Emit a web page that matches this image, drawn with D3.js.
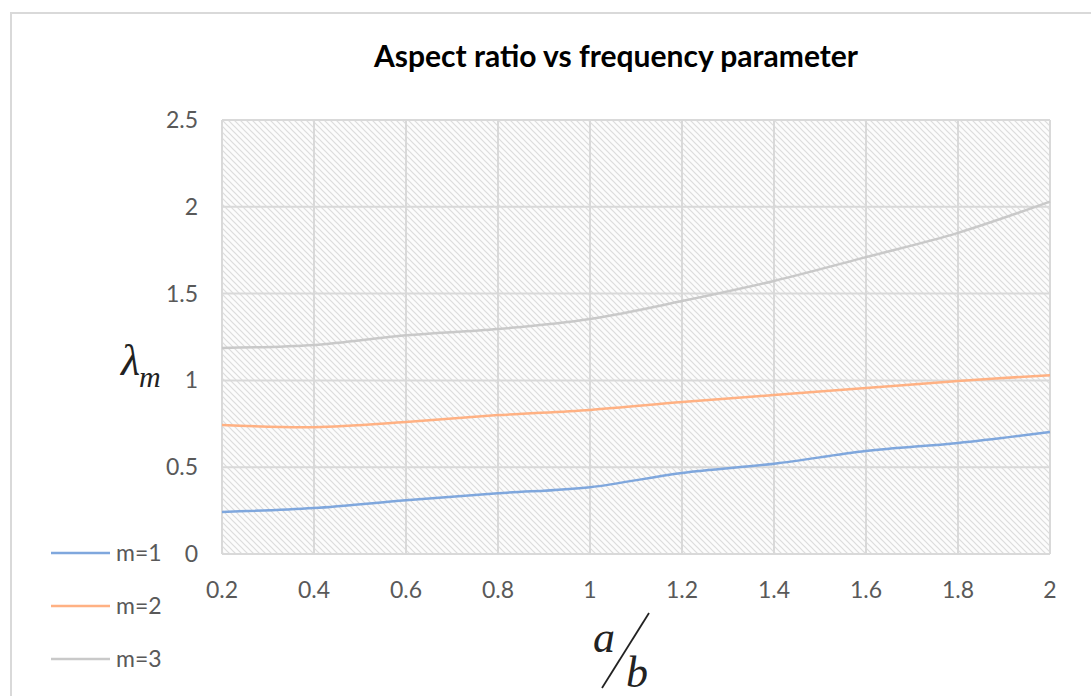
<!DOCTYPE html>
<head>
<meta charset="utf-8">
<script src="https://cdn.jsdelivr.net/npm/d3@7/dist/d3.min.js"></script>
<style>
body { margin: 0; background: #fff; }
</style>
</head>
<body>
<script>
// values
var ratios = [0.2, 0.4, 0.6, 0.8, 1.0, 1.2, 1.4, 1.6, 1.8, 2.0];
var m1 = [0.242, 0.265, 0.31, 0.35, 0.385, 0.467, 0.52, 0.593, 0.64, 0.703];
var m2 = [0.743, 0.73, 0.76, 0.80, 0.83, 0.875, 0.916, 0.956, 0.997, 1.03];
var m3 = [1.187, 1.204, 1.26, 1.296, 1.354, 1.457, 1.573, 1.71, 1.85, 2.03];
var seriesNames = ["m=1", "m=2", "m=3"];
var seriesColors = ["#7fa7dd", "#ffb183", "#c9c9c9"];
var xTicks = [0.2, 0.4, 0.6, 0.8, 1, 1.2, 1.4, 1.6, 1.8, 2];
var yTicks = [0, 0.5, 1, 1.5, 2, 2.5];

var width = 1091, height = 696;
var svg = d3.select("body").append("svg")
  .attr("width", width)
  .attr("height", height);

// outer chart frame
svg.append("rect")
  .attr("x", 11).attr("y", 13)
  .attr("width", 1200).attr("height", 800)
  .attr("fill", "#fff")
  .attr("stroke", "#d9d9d9")
  .attr("stroke-width", 2);

// hatch fill for the plot area
var pat = svg.append("defs").append("pattern")
  .attr("id", "hatch")
  .attr("patternUnits", "userSpaceOnUse")
  .attr("width", 6).attr("height", 6);
pat.append("rect").attr("width", 6).attr("height", 6).attr("fill", "#fcfcfc");
pat.append("path")
  .attr("d", "M-1,-1 L7,7 M-1,5 L1,7 M5,-1 L7,1")
  .attr("stroke", "#dcdcdc")
  .attr("stroke-width", 1.2);

var x = d3.scaleLinear().domain([0.2, 2]).range([222, 1050]);
var y = d3.scaleLinear().domain([0, 2.5]).range([554, 120]);

svg.append("rect")
  .attr("x", x(0.2)).attr("y", y(2.5))
  .attr("width", x(2) - x(0.2)).attr("height", y(0) - y(2.5))
  .attr("fill", "url(#hatch)");

// gridlines
svg.append("g").selectAll("line")
  .data(xTicks).enter().append("line")
  .attr("x1", function(d) { return x(d); })
  .attr("x2", function(d) { return x(d); })
  .attr("y1", y(2.5)).attr("y2", y(0))
  .attr("stroke", "#d9d9d9").attr("stroke-width", 2);
svg.append("g").selectAll("line")
  .data(yTicks).enter().append("line")
  .attr("x1", x(0.2)).attr("x2", x(2))
  .attr("y1", function(d) { return y(d); })
  .attr("y2", function(d) { return y(d); })
  .attr("stroke", "#d9d9d9").attr("stroke-width", 2);

// tick labels
var tickFont = "Lato, 'Open Sans', sans-serif";
svg.append("g").selectAll("text")
  .data(yTicks).enter().append("text")
  .attr("x", 198)
  .attr("y", function(d) { return y(d) + 8; })
  .attr("text-anchor", "end")
  .attr("font-family", tickFont).attr("font-size", 23)
  .attr("fill", "#595959")
  .text(function(d) { return d; });
svg.append("g").selectAll("text")
  .data(xTicks).enter().append("text")
  .attr("x", function(d) { return x(d); })
  .attr("y", 598)
  .attr("text-anchor", "middle")
  .attr("font-family", tickFont).attr("font-size", 23)
  .attr("fill", "#595959")
  .text(function(d) { return d; });

// series lines
var allSeries = [m1, m2, m3];
var line = d3.line()
  .x(function(d, i) { return x(ratios[i]); })
  .y(function(d) { return y(d); })
  .curve(d3.curveCatmullRom.alpha(0.5));
svg.append("g").selectAll("path")
  .data(allSeries).enter().append("path")
  .attr("d", line)
  .attr("fill", "none")
  .attr("stroke", function(d, i) { return seriesColors[i]; })
  .attr("stroke-width", 2.5);

// title
svg.append("text")
  .attr("x", 616).attr("y", 67)
  .attr("text-anchor", "middle")
  .attr("font-family", "Lato, 'Open Sans', sans-serif")
  .attr("font-weight", "bold").attr("font-size", 30)
  .attr("fill", "#000")
  .text("Aspect ratio vs frequency parameter");

// legend
var leg = svg.append("g").selectAll("g")
  .data(seriesNames).enter().append("g")
  .attr("transform", function(d, i) { return "translate(51," + (553 + i * 53) + ")"; });
leg.append("line")
  .attr("x1", 0).attr("x2", 59)
  .attr("stroke", function(d, i) { return seriesColors[i]; })
  .attr("stroke-width", 2.5);
leg.append("text")
  .attr("x", 65).attr("y", 8)
  .attr("font-family", tickFont).attr("font-size", 23)
  .attr("fill", "#595959")
  .text(function(d) { return d; });

// y axis label: lambda_m
var serif = "'Liberation Serif', 'DejaVu Serif', serif";
svg.append("text")
  .attr("x", 121).attr("y", 375)
  .attr("font-family", serif).attr("font-style", "italic")
  .attr("font-size", 44).attr("fill", "#222")
  .text("λ");
svg.append("text")
  .attr("x", 139).attr("y", 387)
  .attr("font-family", serif).attr("font-style", "italic")
  .attr("font-size", 30).attr("fill", "#222")
  .text("m");

// x axis label: a/b
svg.append("text")
  .attr("x", 604).attr("y", 652)
  .attr("text-anchor", "middle")
  .attr("font-family", serif)
  .attr("font-style", "italic").attr("font-size", 44)
  .attr("fill", "#222")
  .text("a");
svg.append("line")
  .attr("x1", 602).attr("y1", 688)
  .attr("x2", 649).attr("y2", 613)
  .attr("stroke", "#222").attr("stroke-width", 1.8);
svg.append("text")
  .attr("x", 637).attr("y", 687)
  .attr("text-anchor", "middle")
  .attr("font-family", serif)
  .attr("font-style", "italic").attr("font-size", 44)
  .attr("fill", "#222")
  .text("b");
</script>
</body>
